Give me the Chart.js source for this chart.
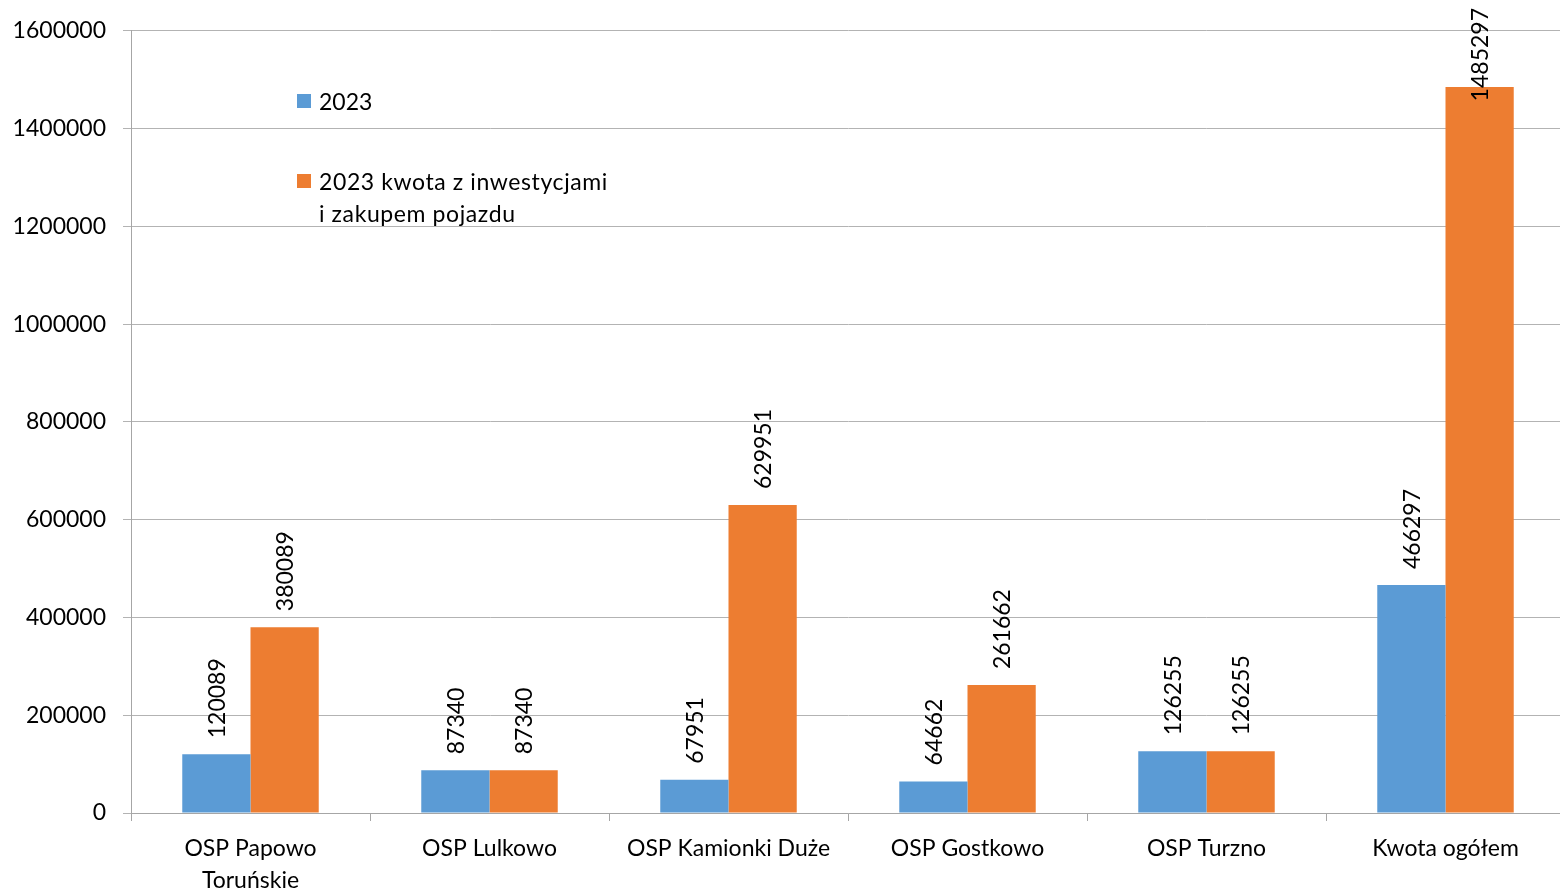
<!DOCTYPE html>
<html>
<head>
<meta charset="utf-8">
<script src="https://cdn.jsdelivr.net/npm/chart.js@4"></script>
<style>
  html, body { margin: 0; padding: 0; background: #fff; overflow: hidden; }
  #wrap { position: relative; width: 1560px; height: 892px; overflow: hidden; }
  .leg { position: absolute; font-family: Lato, "Open Sans", sans-serif; font-size: 23px; color: #000; line-height: 32px; }
  .leg i { position: absolute; left: -22px; top: 9px; width: 14px; height: 14px; }
  .wide { letter-spacing: 0.6px; }
</style>
</head>
<body>
<div id="wrap">
  <canvas id="grafica" width="1565" height="892"></canvas>
  <div class="leg" style="left:319px; top:85px;"><i style="background:#5b9bd5"></i>2023</div>
  <div class="leg wide" style="left:319px; top:165px;"><i style="background:#ed7d31"></i>2023 kwota z inwestycjami<br>i zakupem pojazdu</div>
</div>
<script>
// Datos de la grafica
const kategorie = [['OSP Papowo', 'Toruńskie'], 'OSP Lulkowo', 'OSP Kamionki Duże', 'OSP Gostkowo', 'OSP Turzno', 'Kwota ogółem'];
const kwota2023 = [120089, 87340, 67951, 64662, 126255, 466297];
const kwotaInwestycje = [380089, 87340, 629951, 261662, 126255, 1485297];
const nazwySerii = ['2023', '2023 kwota z inwestycjami i zakupem pojazdu'];

const FONT = 'Lato, "Open Sans", sans-serif';

// Etiquetas giradas encima de cada barra
const etiquetas = {
  id: 'etiquetas',
  afterDatasetsDraw(chart) {
    const ctx = chart.ctx;
    ctx.save();
    ctx.font = '23px ' + FONT;
    ctx.fillStyle = '#000';
    ctx.textAlign = 'left';
    ctx.textBaseline = 'middle';
    chart.data.datasets.forEach((ds, i) => {
      chart.getDatasetMeta(i).data.forEach((bar, j) => {
        const txt = String(ds.data[j]);
        const w = ctx.measureText(txt).width;
        let y = bar.y - 16;
        if (y - w < 8) y = 8 + w;
        ctx.save();
        ctx.translate(bar.x + 1, y);
        ctx.rotate(-Math.PI / 2);
        ctx.fillText(txt, 0, 0);
        ctx.restore();
      });
    });
    ctx.restore();
  }
};

const ctx = document.getElementById('grafica').getContext('2d');
new Chart(ctx, {
  type: 'bar',
  data: {
    labels: kategorie,
    datasets: [{
      label: nazwySerii[0],
      data: kwota2023,
      backgroundColor: '#5b9bd5',
      categoryPercentage: 0.571,
      barPercentage: 1.0
    }, {
      label: nazwySerii[1],
      data: kwotaInwestycje,
      backgroundColor: '#ed7d31',
      categoryPercentage: 0.571,
      barPercentage: 1.0
    }]
  },
  options: {
    responsive: false,
    animation: false,
    layout: { padding: { top: 29, right: 0, left: 0, bottom: 0 } },
    plugins: {
      legend: { display: false },
      tooltip: { enabled: false }
    },
    scales: {
      x: {
        offset: true,
        grid: { offset: true, drawOnChartArea: false, color: '#a6a6a6', tickLength: 8 },
        border: { color: '#a6a6a6' },
        ticks: { color: '#000', font: { family: FONT, size: 23, lineHeight: 1.4 }, padding: 11, maxRotation: 0 },
        afterFit(scale) { scale.height = 79; }
      },
      y: {
        min: 0,
        max: 1600000,
        ticks: {
          stepSize: 200000, color: '#000', font: { family: FONT, size: 23 }, padding: 17,
          callback: (v) => String(v)
        },
        grid: { color: '#b3b3b3', tickLength: 8 },
        border: { color: '#a6a6a6' },
        afterFit(scale) { scale.width = 131; }
      }
    }
  },
  plugins: [etiquetas]
});
</script>
</body>
</html>
